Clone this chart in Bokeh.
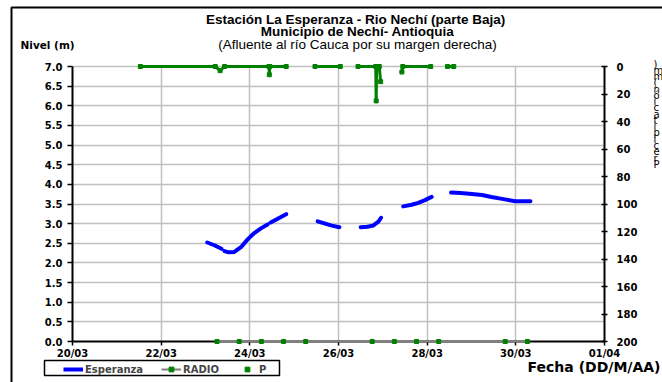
from bokeh.plotting import figure
from bokeh.models import (Range1d, LinearAxis, FixedTicker, NumeralTickFormatter,
                          Label, Legend, LegendItem)
from bokeh.embed import file_html
from bokeh.resources import INLINE

nan = float("nan")

# ---------------- data ----------------
# x values are "day of March" (32 = 01/04)
x_tick_days = [20, 22, 24, 26, 28, 30, 32]
x_tick_labels = ["20/03", "22/03", "24/03", "26/03", "28/03", "30/03", "01/04"]
nivel_ticks = [0.0, 0.5, 1.0, 1.5, 2.0, 2.5, 3.0, 3.5, 4.0, 4.5, 5.0, 5.5, 6.0, 6.5, 7.0]
precip_ticks = [0, 20, 40, 60, 80, 100, 120, 140, 160, 180, 200]

esperanza_day = [23.04, 23.20, 23.36, nan, 23.43, 23.52, 23.65, 23.80, 23.95, 24.10, 24.25, 24.40, nan,
                 24.47, 24.65, 24.82, nan,
                 25.53, 25.70, 25.85, 26.02, nan,
                 26.50, 26.65, 26.78, 26.90, 26.96, nan,
                 27.46, 27.65, 27.80, 27.95, 28.10, nan,
                 28.54, 28.75, 28.95, 29.24, 29.45, 29.69, 29.99, 30.33]
esperanza_nivel = [2.52, 2.45, 2.36, nan, 2.30, 2.27, 2.28, 2.40, 2.60, 2.76, 2.88, 2.98, nan,
                   3.03, 3.14, 3.24, nan,
                   3.06, 3.00, 2.95, 2.91, nan,
                   2.91, 2.92, 2.95, 3.05, 3.15, nan,
                   3.44, 3.48, 3.53, 3.60, 3.68, nan,
                   3.79, 3.78, 3.76, 3.73, 3.68, 3.63, 3.57, 3.57]

radio_day = [23.26, 23.76, 24.26, 24.76, 25.26, 26.76, 27.26, 27.76, 28.26, 29.76, 30.26]
radio_nivel = [0, 0, 0, 0, 0, 0, 0, 0, 0, 0, 0]

p_day = [21.53, 23.22, 23.33, 23.43, 24.43, 24.44, 24.45, 24.82, nan,
         25.47, 26.04, nan,
         26.44, 26.84, 26.85, 26.86, 26.92, 26.95, nan,
         27.43, 27.45, 28.08, nan,
         28.46, 28.60]
p_mm = [0, 0, 3, 0, 0, 6, 0, 0, nan,
        0, 0, nan,
        0, 0, 25, 0, 0, 11, nan,
        4, 0, 0, nan,
        0, 0]

title_lines = ["Estación La Esperanza - Rio Nechí  (parte Baja)",
               "Municipio de Nechí- Antioquia",
               "(Afluente al río Cauca por su margen derecha)"]
y_title = "Nivel (m)"
x_title = "Fecha (DD/M/AA)"
y2_title = "Precipitación (mm)"

# ---------------- layout ----------------
W, H = 662, 382
PX_LEFT, PX_RIGHT, PX_TOP, PX_BOTTOM = 72, 604, 66, 341   # page px of the value area
TOP_PAD = 3
FONT = "DejaVu Sans"
TFONT = "Liberation Sans"
GREEN = "#008000"
BLUE = "#0000ff"
GRAY = "#808080"

frame_h = (PX_BOTTOM - PX_TOP) + TOP_PAD
ymax = 7.0 * frame_h / (PX_BOTTOM - PX_TOP)
pmin = 200 - 200.0 * frame_h / (PX_BOTTOM - PX_TOP)

p = figure(width=W, height=H, output_backend="svg", toolbar_location=None,
           x_range=Range1d(20, 32), y_range=Range1d(0, ymax),
           min_border_left=PX_LEFT, min_border_right=W - PX_RIGHT,
           min_border_top=PX_TOP - TOP_PAD, min_border_bottom=H - PX_BOTTOM)
p.outline_line_color = None
p.background_fill_color = "white"
p.border_fill_color = "white"
p.extra_y_ranges = {"precip": Range1d(start=200, end=pmin)}

p.xgrid.ticker = FixedTicker(ticks=x_tick_days)
p.ygrid.ticker = FixedTicker(ticks=nivel_ticks)
for g in (p.xgrid, p.ygrid):
    g.grid_line_color = "#c0c0c0"
    g.grid_line_width = 1.5
try:
    p.xgrid.cross_bounds = (0, 7)
except Exception:
    pass

xa = p.xaxis[0]
xa.ticker = FixedTicker(ticks=x_tick_days)
xa.major_label_overrides = {d: lab for d, lab in zip(x_tick_days, x_tick_labels)}
ya = p.yaxis[0]
ya.ticker = FixedTicker(ticks=nivel_ticks)
ya.formatter = NumeralTickFormatter(format="0.0")
ya.bounds = (0, 7)
ra = LinearAxis(y_range_name="precip", ticker=FixedTicker(ticks=precip_ticks), bounds=(0, 200))
p.add_layout(ra, "right")

for ax in (xa, ya, ra):
    ax.axis_line_color = "black"
    ax.axis_line_width = 2
    ax.major_tick_line_color = "black"
    ax.major_tick_line_width = 1.5
    ax.minor_tick_line_color = None
    ax.major_label_text_font = FONT
    ax.major_label_text_font_style = "bold"
    ax.major_label_text_font_size = "10px"
    ax.major_label_text_color = "black"
xa.major_tick_in, xa.major_tick_out, xa.major_label_standoff = 0, 4, 2
ya.major_tick_in, ya.major_tick_out, ya.major_label_standoff = 0, 5, 5
ra.major_tick_in, ra.major_tick_out, ra.major_label_standoff = 3, 3, 9

p.line(esperanza_day, esperanza_nivel, line_color=BLUE, line_width=4,
       line_cap="round", line_join="round")
p.line(p_day, p_mm, y_range_name="precip", line_color=GREEN, line_width=3)
p.scatter(p_day, p_mm, y_range_name="precip", marker="square", size=4,
          fill_color=GREEN, line_color=GREEN)
p.line(radio_day, radio_nivel, line_color=GRAY, line_width=2, level="overlay")
p.scatter(radio_day, radio_nivel, marker="square", size=4,
          fill_color=GREEN, line_color=GREEN, level="overlay")

# ---------------- transparent overlay (separate root) for texts / frame / legend ----------------
ov = figure(width=W, height=H, output_backend="svg", toolbar_location=None,
            x_range=Range1d(0, W), y_range=Range1d(H, 0),
            x_axis_type=None, y_axis_type=None, min_border=0)
ov.outline_line_color = None
ov.background_fill_color = None
ov.border_fill_color = None
ov.styles = {"position": "absolute", "top": "0px", "left": "0px"}

# outer chart frame
ov.line([11, 11, 800], [500, 7, 7], line_color="black", line_width=2)

def lab(text, x, y, size, bold=True, align="center", font=TFONT, **kw):
    ov.add_layout(Label(text=text, x=x, y=y, text_font=font, text_font_size=size,
                        text_font_style="bold" if bold else "normal",
                        text_align=align, text_baseline="middle", text_color="black", **kw))

TX = 357
lab(title_lines[0], TX, 19, "13.5px")
lab(title_lines[1], TX, 31, "13.5px")
lab(title_lines[2], TX, 44, "13.5px", bold=False)
lab(y_title, 20, 44, "10.5px", align="left", font=FONT)
lab(x_title, 660, 366, "14px", align="right", font=FONT)

# right-hand axis title, stacked the way the original draws it
ov.add_layout(Label(text="\n".join(reversed(list(y2_title.replace(" ", "")))), x=653, y=58,
                    text_font=FONT, text_font_size="10px", text_line_height=0.57,
                    text_align="left", text_baseline="top", text_color="black"))

# legend box + legend
ov.quad(left=[44], right=[279], top=[360], bottom=[375], fill_color="white",
        line_color="black", line_width=1.5)
g_esp = ov.line([nan], [nan], line_color=BLUE, line_width=4)
g_rad_l = ov.line([nan], [nan], line_color=GRAY, line_width=2)
g_rad_m = ov.scatter([nan], [nan], marker="square", fill_color=GREEN, line_color=GREEN)
g_p = ov.scatter([nan], [nan], marker="square", fill_color=GREEN, line_color=GREEN)
legend = Legend(items=[LegendItem(label="Esperanza", renderers=[g_esp]),
                       LegendItem(label="RADIO", renderers=[g_rad_l, g_rad_m]),
                       LegendItem(label="P", renderers=[g_p])],
                orientation="horizontal", location=(63, H - 375),
                border_line_color=None, background_fill_alpha=0, padding=2, spacing=18,
                label_standoff=2, glyph_width=20, glyph_height=12, label_height=12,
                label_text_font=FONT, label_text_font_size="10px",
                label_text_font_style="bold", margin=0)
ov.add_layout(legend, "center")

open("out.html", "w").write(file_html([p, ov], INLINE))
